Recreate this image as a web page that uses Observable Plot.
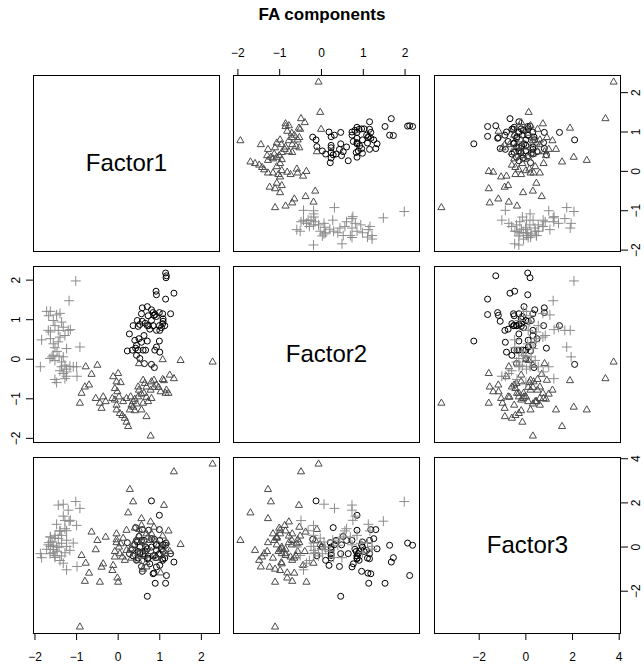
<!DOCTYPE html>
<html>
<head>
<meta charset="utf-8">
<script src="https://cdn.jsdelivr.net/npm/d3@7"></script>
<script src="https://cdn.jsdelivr.net/npm/@observablehq/plot@0.6"></script>
<style>
  body { margin: 0; background: #fff; }
  #chart { position: relative; width: 644px; height: 666px; overflow: hidden; background: #fff;
           font-family: "Liberation Sans", Arial, Helvetica, sans-serif; color: #000; }
  #title { position: absolute; left: 0; top: 5px; width: 644px; text-align: center;
           font-weight: bold; font-size: 17px; line-height: 20px; }
  .panel { position: absolute; }
  .panel svg { max-width: none !important; }
</style>
</head>
<body>
<div id="chart"><div id="title">FA components</div></div>
<script>
// Factor scores, one array per factor and per class
const factorNames = ["Factor1", "Factor2", "Factor3"];

// class 1 (circles)
const f1Class1 = [1.14, 1.16, 1.15, 0.91, 0.92, 1.14, 1.34, 0.58, 0.70, 0.80, 0.84, 0.89, 0.92, 0.99, 1.07, 1.26, 1.08, 0.86, 0.46, 0.52,
  0.58, 0.65, 0.70, 0.76, 0.73, 0.48, 0.84, 0.99, 1.04, 1.07, 1.00, 1.08, 0.27, 0.50, 0.56, 0.70, 0.99, 0.92, 0.88, 1.00,
  0.22, 0.34, 0.42, 0.48, 0.60, 0.44, 0.52, 0.63, 0.80, 0.87, 0.66, 0.40, 0.62, 0.80, 0.36, 0.92, 0.56, 1.12, 0.72, 0.44];
const f2Class1 = [2.18, 2.11, 2.06, 1.72, 1.63, 1.52, 1.67, 1.30, 1.33, 1.25, 1.18, 1.13, 1.08, 1.18, 1.15, 1.15, 1.02, 1.11, 0.98, 0.88,
  0.96, 0.91, 0.85, 0.76, 0.85, 0.83, 0.85, 0.85, 0.80, 0.90, 0.73, 0.96, 0.64, 0.52, 0.43, 0.46, 0.46, 0.31, 0.23, 0.18,
  0.21, 0.23, 0.28, 0.23, 0.23, 0.35, 0.02, -0.11, -0.13, -0.21, 0.23, 0.48, 0.60, 0.98, 0.85, 0.73, 1.15, 0.85, 1.10, 0.10];
const f3Class1 = [0.08, -1.29, 0.18, -0.48, 0.08, -1.64, -0.68, 0.79, -0.08, 0.38, -1.21, -1.64, -0.15, 0.79, -0.53, -0.30, -0.20, -1.18, 0.23, -0.30,
  -1.10, -0.18, -0.53, -0.76, 0.76, -0.20, -0.40, 1.44, -0.10, -0.60, 0.30, 0.10, -0.30, 0.48, -0.88, -2.23, -0.30, 0.11, -0.38, -0.83,
  0.20, -0.12, 0.88, -0.50, -0.30, 0.30, 0.00, -0.40, 2.09, 0.35, 0.00, 0.10, 0.30, 0.00, -0.40, -0.90, 0.30, -0.50, -0.50, -0.60];

// class 2 (triangles)
const f1Class2 = [-0.78, -0.50, -0.64, -0.70, -0.80, -0.88, -0.92, -0.54, -0.36, -0.44, -0.30, -0.40, -0.12, 0.00, -0.04, 0.06, -0.08, -0.02, 0.02, -0.08,
  -0.04, -0.04, 0.04, 0.10, 0.16, 0.20, 0.24, -0.14, 0.12, 0.20, 0.30, 0.36, 0.40, 0.32, 0.36, 0.40, 0.44, 0.48, 0.50, 0.56,
  0.48, 0.60, 0.64, 0.68, 0.62, 0.68, 0.72, 0.78, 0.80, 0.86, 0.86, 0.92, 0.97, 1.02, 1.07, 1.10, 1.14, 1.16, 1.21, 1.24,
  1.34, 0.50, 1.07, 1.50, 2.27, 0.78, 0.68, 0.56, 0.28, 0.60, 0.80];
const f2Class2 = [-0.19, -0.15, -0.38, -0.65, -0.70, -0.86, -1.11, -0.99, -0.95, -1.11, -1.07, -1.24, -0.44, -0.36, -0.57, -0.59, -0.74, -0.82, -0.95, -1.03,
  -1.16, -1.28, -1.37, -1.42, -1.49, -1.59, -1.70, -0.99, -1.07, -0.99, -0.95, -1.07, -1.01, -1.16, -1.21, -1.30, -1.13, -0.95, -0.78, -0.88,
  -0.70, -0.53, -0.61, -0.70, -0.86, -0.96, -1.07, -0.78, -0.57, -0.71, -0.53, -0.65, -0.71, -0.82, -0.51, -0.54, -0.86, -0.78, -0.86, -0.40,
  -0.49, -0.11, -0.01, -0.03, -0.07, -1.94, -1.45, -1.28, -1.28, -1.11, -0.99];
const f3Class2 = [-0.73, 0.30, 0.68, -1.18, -1.55, -0.38, -3.62, -0.12, -0.76, -1.59, 0.45, -0.91, -0.83, -1.59, 0.33, 0.15, -0.45, -1.40, 0.00, -0.20,
  0.60, 0.20, -0.30, -0.45, -0.60, -0.15, 1.55, -1.06, 0.40, 0.76, -0.08, 0.10, 0.86, -0.50, 2.05, -0.20, 0.30, -0.30, 0.50, 0.98,
  -0.60, 0.20, -0.40, 0.60, -0.10, -0.70, 0.45, 1.14, -0.20, 0.30, 0.90, -0.50, 0.10, -1.17, 0.50, 1.89, -0.30, 0.20, 0.73, -0.20,
  3.41, 0.80, 0.00, 0.12, 3.76, 0.30, -0.90, 1.29, 2.61, -1.00, 0.60];

// class 3 (plus signs)
const f1Class3 = [-1.02, -1.18, -1.72, -1.63, -1.67, -1.48, -1.56, -1.36, -1.52, -1.32, -1.68, -1.63, -1.20, -1.15, -1.84, -1.63, -1.40, -1.44, -1.24, -0.92,
  -1.52, -1.47, -1.56, -1.42, -1.64, -1.52, -1.36, -1.87, -1.28, -1.16, -1.00, -1.24, -1.40, -1.32, -1.24, -0.99, -1.52, -1.28, -1.48, -1.24,
  -1.36, -1.56, -1.08, -1.44, -1.59, -1.32, -1.40, -1.28];
const f2Class3 = [1.98, 1.48, 1.21, 1.21, 1.10, 1.12, 0.98, 0.94, 0.85, 0.81, 0.73, 0.69, 0.73, 0.75, 0.49, 0.52, 0.56, 0.44, 0.27, 0.31,
  0.29, 0.20, 0.10, 0.08, 0.02, -0.03, -0.07, -0.19, -0.15, -0.18, -0.19, -0.25, -0.29, -0.36, -0.43, -0.43, -0.51, -0.49, -0.59, -0.32,
  -0.19, 0.39, -0.19, 0.73, 0.06, 0.06, 1.16, 0.60];
const f3Class3 = [2.06, 1.17, -0.10, 0.03, 0.20, 1.03, -0.26, 0.17, 0.53, 1.40, 0.10, 0.45, 1.67, 1.21, -0.48, 0.46, 0.73, 0.39, 0.31, 1.75,
  -0.47, -0.19, -0.11, 0.00, -0.30, 0.40, -0.40, -0.30, -0.26, -0.15, 0.98, 0.03, -0.61, -0.73, -1.03, -0.88, -0.38, 1.20, 0.00, 0.74,
  0.53, 0.08, 0.18, 1.90, 0.23, 1.94, 0.73, 0.83];

const tickValues = [[-2, -1, 0, 1, 2], [-2, -1, 0, 1, 2], [-2, 0, 2, 4]];

// marker style for each class
const classSymbols = ["circle", "triangle2", "plus"];
const classColors = ["#000000", "#4a4a4a", "#8c8c8c"];
const classRadius = [3.0, 3.4, 3.3];

const classes = [
  [f1Class1, f2Class1, f3Class1],
  [f1Class2, f2Class2, f3Class2],
  [f1Class3, f2Class3, f3Class3]
].map(cols => cols[0].map((_, n) => cols.map(c => c[n])));

// each factor's range, widened by 4% on either side
const domains = [0, 1, 2].map(f => {
  const [lo, hi] = d3.extent(classes.flat(), p => p[f]);
  const pad = (hi - lo) * 0.04;
  return [lo - pad, hi + pad];
});

const fmt = d3.format("d");
const colLeft = [33, 233, 434], rowTop = [75, 266, 457];
const W = 186, H = 176, M = 40;
const chart = document.getElementById("chart");

for (let i = 0; i < 3; i++) {
  for (let j = 0; j < 3; j++) {
    const top = i === 0 && j === 1;
    const bottom = i === 2 && j !== 1;
    const left = j === 0 && i === 1;
    const right = j === 2 && i !== 1;
    const marks = [];
    if (i === j) {
      marks.push(Plot.text([factorNames[i]], {frameAnchor: "middle", fontSize: 24}));
    } else {
      classes.forEach((pts, k) => marks.push(Plot.dot(pts, {
        x: p => p[j], y: p => p[i], symbol: classSymbols[k], r: classRadius[k],
        stroke: classColors[k], strokeWidth: 1, fill: "none"
      })));
    }
    if (left || right) {
      marks.push(Plot.text(tickValues[i], {
        y: d => d, text: d => fmt(d), frameAnchor: right ? "right" : "left",
        dx: right ? 16 : -17, rotate: -90, textAnchor: "middle", fontSize: 12
      }));
    }
    marks.push(Plot.frame({stroke: "#000", strokeWidth: 1}));
    const svg = Plot.plot({
      width: W + 2 * M, height: H + 2 * M,
      marginTop: M, marginBottom: M, marginLeft: M, marginRight: M,
      style: {background: "transparent", overflow: "visible", fontSize: "12px", maxWidth: "none",
              fontFamily: "'Liberation Sans', Arial, Helvetica, sans-serif"},
      x: {domain: domains[j], axis: top ? "top" : bottom ? "bottom" : null, ticks: tickValues[j],
          tickSize: 7, tickPadding: 12, label: null, tickFormat: fmt},
      y: {domain: domains[i], axis: left ? "left" : right ? "right" : null, ticks: tickValues[i],
          tickSize: 7, tickPadding: 12, label: null, tickFormat: () => ""},
      marks
    });
    const holder = document.createElement("div");
    holder.className = "panel";
    holder.style.left = (colLeft[j] - M) + "px";
    holder.style.top = (rowTop[i] - M) + "px";
    holder.style.width = (W + 2 * M) + "px";
    holder.style.height = (H + 2 * M) + "px";
    holder.appendChild(svg);
    chart.appendChild(holder);
  }
}
</script>
</body>
</html>
